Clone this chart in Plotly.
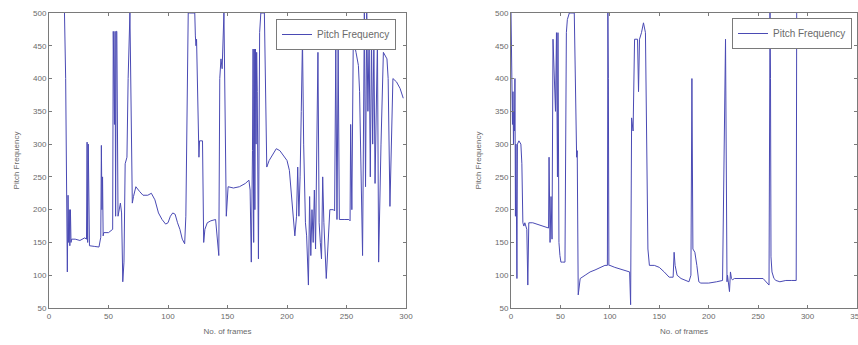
import plotly.graph_objects as go
from plotly.subplots import make_subplots

# ---- data ----
left_frames = [13, 14, 15.4, 16, 16.5, 17, 17.5, 18, 18.5, 19, 22, 26, 30, 31.5, 32, 32.5, 33, 33.5, 34, 38, 42,
               43.5, 44, 44.5, 45, 45.5, 46, 50, 53.5, 54, 55, 55.5, 56, 56.5, 57, 58, 59, 60, 61, 62, 63, 64,
               65.5, 66.5, 68, 70, 71, 73, 76, 79, 83, 86, 89, 92, 95, 98, 100, 102, 104, 106, 108, 110, 112,
               114, 115, 117, 118, 121, 122.5, 123, 123.5, 124, 125, 126, 126.5, 129, 130, 131, 133, 136, 140,
               141.5, 142.7, 143.5, 144.5, 145.5, 147, 149, 150.5, 155, 160, 165, 168, 169, 170, 171, 171.5, 172,
               172.5, 173, 173.5, 174, 174.5, 175, 176, 177, 178, 181, 183, 185, 188, 191, 194, 197, 200, 202,
               204, 206.6, 208, 209, 210, 211, 212, 213, 214, 215.5, 216.5, 218, 219, 220, 221, 222, 223, 224,
               226, 227, 228, 229, 230, 231, 233, 236, 239, 240, 241, 242, 243, 244, 248, 252, 253, 253.5,
               254.5, 255.7, 258, 260, 261, 263.5, 265, 266, 267, 268, 269, 270, 271, 272, 273, 274, 276, 277,
               279, 281, 284, 285, 286.5, 289, 292, 295, 297.7]
left_pitch = [500, 400, 105, 222, 150, 200, 145, 200, 150, 155, 155, 153, 157, 155, 303, 150, 300, 145, 145, 144,
              143, 158, 298, 200, 250, 160, 165, 165, 170, 472, 330, 472, 190, 472, 472, 190, 200, 210, 195, 90,
              120, 270, 280, 400, 500, 210, 220, 235, 228, 222, 222, 225, 215, 195, 185, 178, 180, 190, 195, 193,
              180, 170, 155, 148, 190, 500, 500, 500, 500, 465, 450, 460, 360, 280, 305, 305, 150, 170, 180, 183,
              185, 150, 130, 400, 430, 415, 500, 190, 235, 233, 235, 240, 245, 230, 120, 290, 445, 150, 445, 200,
              445, 300, 440, 380, 125, 470, 500, 500, 265, 275, 285, 293, 290, 283, 275, 260, 220, 160, 190, 265,
              190, 250, 350, 460, 300, 180, 160, 85, 220, 130, 200, 150, 230, 140, 440, 180, 150, 125, 250, 180,
              95, 200, 200, 198, 445, 185, 445, 185, 185, 185, 183, 330, 200, 460, 440, 420, 380, 130, 500, 235,
              500, 350, 460, 250, 460, 300, 460, 240, 460, 120, 300, 440, 430, 400, 205, 400, 395, 385, 370, 362,
              358]

right_frames = [0, 1, 1.5, 2, 2.5, 3, 3.5, 4, 4.5, 5, 6, 6.5, 8, 10, 11, 12, 13, 14, 16, 17, 18, 22, 28, 34, 38,
                38.5, 39.5, 40.5, 41.5, 42.5, 45, 46, 47, 47.5, 48, 48.5, 49.5, 50.5, 52, 54.6, 56, 57, 59, 61,
                64, 66.4, 67, 68, 70, 75, 80, 85, 90, 95, 97.5, 98, 98.5, 99, 100, 105, 110, 115, 120, 121, 122,
                123.5, 125, 128, 129, 130, 132, 134, 136, 138.5, 140, 145, 150, 155, 160, 164, 165, 166, 168, 172,
                176, 180, 182, 183, 184, 186, 188, 190, 192, 200, 208, 214, 217, 218, 218.5, 219, 221, 222,
                223, 224, 226, 235, 245, 255, 261, 262, 262.5, 263, 264, 266, 268, 272, 278, 284, 288.5, 289]
right_pitch = [500, 400, 330, 380, 300, 350, 320, 400, 190, 300, 95, 300, 305, 300, 270, 180, 175, 180, 170, 85,
               180, 180, 177, 175, 172, 280, 150, 220, 155, 460, 350, 470, 250, 470, 310, 150, 130, 120, 120, 120,
               470, 490, 500, 500, 500, 280, 290, 70, 95, 100, 105, 108, 112, 115, 115, 500, 400, 115, 115, 112,
               110, 107, 105, 55, 340, 320, 460, 460, 380, 460, 470, 485, 470, 140, 115, 115, 112, 105, 97, 97, 135,
               115, 100, 95, 92, 90, 100, 400, 140, 135, 115, 90, 88, 88, 90, 92, 460, 270, 90, 100, 75, 105, 95,
               93, 95, 95, 95, 95, 85, 500, 400, 128, 105, 95, 92, 90, 92, 92, 92, 500]

x_ticks_left = [0, 50, 100, 150, 200, 250, 300]
x_ticks_right = [0, 50, 100, 150, 200, 250, 300, 350]
y_ticks = [50, 100, 150, 200, 250, 300, 350, 400, 450, 500]

W, H = 858, 345
line_color = "#4a4ab4"
axis_color = "#7a7a7a"
text_color = "#6a6a6a"
font = dict(family="Liberation Sans, Arial, sans-serif", size=8, color=text_color)

fig = make_subplots(rows=1, cols=2)
fig.add_trace(go.Scatter(x=left_frames, y=left_pitch, mode="lines", name="Pitch Frequency",
                         line=dict(color=line_color, width=1), legend="legend"), row=1, col=1)
fig.add_trace(go.Scatter(x=right_frames, y=right_pitch, mode="lines", name="Pitch Frequency",
                         line=dict(color=line_color, width=1), legend="legend2"), row=1, col=2)

ytop = 1 - 13 / H
ybot = 1 - 308 / H
common_axis = dict(showline=True, mirror="ticks", linecolor=axis_color, linewidth=1,
                   ticks="inside", ticklen=3, tickcolor=axis_color, showgrid=False, zeroline=False,
                   tickfont=font, automargin=False, ticklabeloverflow="allow")

fig.update_xaxes(domain=[49 / W, 406 / W], range=[0, 300], tickvals=x_ticks_left,
                 title=dict(text="No. of frames", font=font, standoff=8), row=1, col=1, **common_axis)
fig.update_xaxes(domain=[511 / W, 857 / W], range=[0, 350], tickvals=x_ticks_right,
                 title=dict(text="No. of frames", font=font, standoff=8), row=1, col=2, **common_axis)
fig.update_yaxes(domain=[ybot, ytop], range=[50, 500], tickvals=y_ticks,
                 title=dict(text="Pitch Frequency", font=font, standoff=12), row=1, col=1, **common_axis)
fig.update_yaxes(domain=[ybot, ytop], range=[50, 500], tickvals=y_ticks,
                 title=dict(text="Pitch Frequency", font=font, standoff=12), row=1, col=2, **common_axis)

legend_style = dict(bgcolor="white", bordercolor=axis_color, borderwidth=1, font=dict(font, size=10),
                    xanchor="left", yanchor="top", itemwidth=30, tracegroupgap=0)
fig.update_layout(
    width=W, height=H,
    margin=dict(l=0, r=0, t=0, b=0),
    paper_bgcolor="white", plot_bgcolor="white",
    showlegend=True,
    legend=dict(x=276 / W, y=1 - 19 / H, **legend_style),
    legend2=dict(x=732 / W, y=1 - 18 / H, **legend_style),
)

fig.write_html("out.html", config={"displayModeBar": False},
               post_script="document.body.style.margin='0';")
